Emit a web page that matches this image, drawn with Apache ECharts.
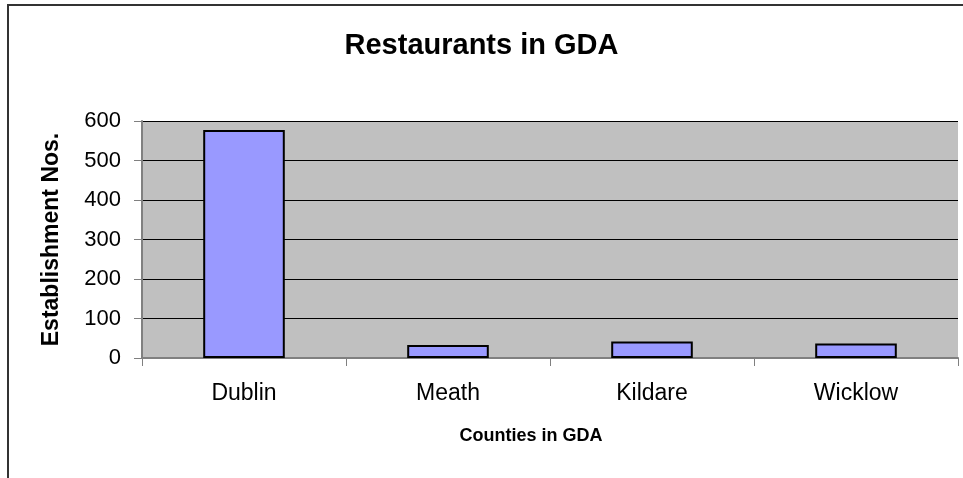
<!DOCTYPE html>
<html><head><meta charset="utf-8">
<script src="https://cdn.jsdelivr.net/npm/echarts@6/dist/echarts.min.js"></script>
<style>html,body{margin:0;padding:0;background:#fff}#c{width:963px;height:478px}</style>
</head><body><div id="c"></div>
<script>
const categories = ["Dublin", "Meath", "Kildare", "Wicklow"];
const values = [577, 33, 42, 37];
const yTicks = [0, 100, 200, 300, 400, 500, 600];

const chart = echarts.init(document.getElementById('c'), null, {renderer: 'canvas'});
const FONT = 'Liberation Sans, Arial, sans-serif';
chart.setOption({
  animation: false,
  backgroundColor: '#ffffff',
  title: {
    text: 'Restaurants in GDA', left: 'center', top: 26,
    textStyle: {fontFamily: FONT, fontSize: 29, fontWeight: 'bold', color: '#000'}
  },
  graphic: [{
    type: 'polyline', silent: true,
    shape: {points: [[8, 500], [8, 5], [970, 5]]},
    style: {stroke: '#333', lineWidth: 2, fill: null}
  }],
  grid: {left: 142, right: 5, top: 121, bottom: 120, show: true, backgroundColor: '#c0c0c0', borderWidth: 0},
  xAxis: {
    type: 'category', data: categories,
    name: 'Counties in GDA', nameLocation: 'middle', nameGap: 69,
    nameTextStyle: {fontFamily: FONT, fontSize: 18, fontWeight: 'bold', color: '#000', padding: [0, 38, 0, 0]},
    axisLine: {show: true, lineStyle: {color: '#808080', width: 2}},
    axisTick: {show: true, alignWithLabel: false, length: 8, lineStyle: {color: '#808080'}},
    axisLabel: {fontFamily: FONT, fontSize: 23, color: '#000', margin: 24},
    splitLine: {show: false}
  },
  yAxis: {
    type: 'value', min: 0, max: 600, interval: 100,
    name: 'Establishment Nos.', nameLocation: 'middle', nameGap: 79,
    nameTextStyle: {fontFamily: FONT, fontSize: 23, fontWeight: 'bold', color: '#000'},
    axisLine: {show: true, lineStyle: {color: '#808080', width: 2}},
    axisTick: {show: true, length: 8, lineStyle: {color: '#808080'}},
    axisLabel: {fontFamily: FONT, fontSize: 22, color: '#000', margin: 21,
      formatter: v => yTicks.includes(v) ? String(v) : ''},
    splitLine: {show: true, lineStyle: {color: '#000', width: 1}}
  },
  series: [{
    type: 'bar', data: values, barWidth: '40%',
    itemStyle: {color: '#9999ff', borderColor: '#000', borderWidth: 2}
  }]
});
</script></body></html>
